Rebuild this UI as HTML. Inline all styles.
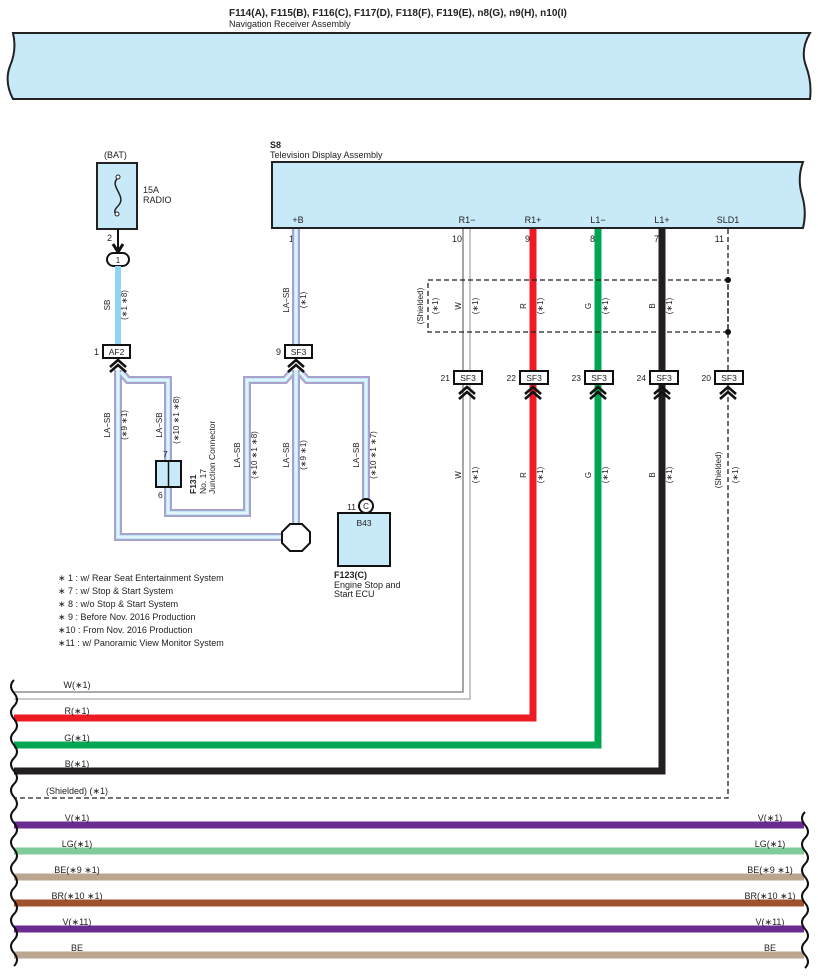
<!DOCTYPE html>
<html><head><meta charset="utf-8"><style>
html,body{margin:0;padding:0;background:#fff}
svg{display:block}
text{font-family:"Liberation Sans",sans-serif;fill:#222}
</style></head><body>
<svg width="818" height="978" viewBox="0 0 818 978" xmlns="http://www.w3.org/2000/svg">
<defs>
<g id="chev"><path d="M-8,7 L0,0 L8,7 M-8,12 L0,5 L8,12" fill="none" stroke="#111" stroke-width="2.6"/></g>
</defs>
<text x="229" y="16" font-size="10" font-weight="bold">F114(A), F115(B), F116(C), F117(D), F118(F), F119(E), n8(G), n9(H), n10(I)</text>
<text x="229" y="27" font-size="9">Navigation Receiver Assembly</text>
<path d="M13,33 L810,33 Q800,50 806,66 Q812,82 810,99 L13,99 Q4,82 10,66 Q17,50 13,33 Z" fill="#c8e9f8" stroke="#222" stroke-width="2"/>

<text x="270" y="148" font-size="9" font-weight="bold">S8</text>
<text x="270" y="158" font-size="9">Television Display Assembly</text>
<path d="M272,162 L803,162 Q797,178 802,195 Q807,212 803,228 L272,228 Z" fill="#c8e9f8" stroke="#222" stroke-width="2"/>
<g font-size="9" text-anchor="middle">
<text x="298" y="223">+B</text><text x="467" y="223">R1−</text><text x="533" y="223">R1+</text>
<text x="598" y="223">L1−</text><text x="662" y="223">L1+</text><text x="728" y="223">SLD1</text>
</g>
<g font-size="9" text-anchor="end">
<text x="294" y="242">1</text><text x="462" y="242">10</text><text x="530" y="242">9</text>
<text x="595" y="242">8</text><text x="659" y="242">7</text><text x="724" y="242">11</text>
</g>

<text x="104" y="158" font-size="9">(BAT)</text>
<rect x="97" y="163" width="40" height="66" fill="#c8e9f8" stroke="#222" stroke-width="2"/>
<path d="M118,178 C108,186 128,196 118,206 C112,212 116,214 117,214" fill="none" stroke="#222" stroke-width="1.5"/>
<circle cx="118" cy="177" r="2" fill="#fff" stroke="#222"/><circle cx="117" cy="214" r="2" fill="#fff" stroke="#222"/>
<text x="143" y="193" font-size="9">15A</text><text x="143" y="203" font-size="9">RADIO</text>
<text x="112" y="241" font-size="9" text-anchor="end">2</text>
<line x1="118" y1="229" x2="118" y2="250" stroke="#111" stroke-width="2"/>
<path d="M113,244 L118,252 L123,244" fill="none" stroke="#111" stroke-width="3"/>
<rect x="107" y="253" width="22" height="13" rx="6.5" fill="#fff" stroke="#111" stroke-width="2"/>
<text x="118" y="263" font-size="8" text-anchor="middle">1</text>
<line x1="118" y1="266" x2="118" y2="345" stroke="#8fd3f2" stroke-width="6"/>
<text transform="translate(110,305) rotate(-90)" font-size="8" text-anchor="middle">SB</text>
<text transform="translate(127,305) rotate(-90)" font-size="8" text-anchor="middle">(∗1 ∗8)</text>

<g fill="none" stroke-linejoin="miter">
<g stroke="#a8a2cd" stroke-width="8">
<polyline points="296,229 296,345"/>
<polyline points="118,370 118,537 282,537"/>
<polyline points="121,372 128,380 168,380 168,461"/>
<polyline points="168,487 168,513 247,513 247,380 285,380 292,372"/>
<polyline points="296,370 296,523"/>
<polyline points="300,372 307,380 366,380 366,499"/>
</g>
<g stroke="#c0e8f8" stroke-width="4">
<polyline points="296,229 296,345"/>
<polyline points="118,370 118,537 282,537"/>
<polyline points="121,372 128,380 168,380 168,461"/>
<polyline points="168,487 168,513 247,513 247,380 285,380 292,372"/>
<polyline points="296,370 296,523"/>
<polyline points="300,372 307,380 366,380 366,499"/>
</g>
<g stroke="#fff" stroke-width="1">
<polyline points="296,229 296,345"/>
<polyline points="118,370 118,537 282,537"/>
<polyline points="121,372 128,380 168,380 168,461"/>
<polyline points="168,487 168,513 247,513 247,380 285,380 292,372"/>
<polyline points="296,370 296,523"/>
<polyline points="300,372 307,380 366,380 366,499"/>
</g>
</g>
<g font-size="8" text-anchor="middle">
<text transform="translate(289,300) rotate(-90)">LA−SB</text>
<text transform="translate(306,300) rotate(-90)">(∗1)</text>
<text transform="translate(110,425) rotate(-90)">LA−SB</text>
<text transform="translate(127,425) rotate(-90)">(∗9 ∗1)</text>
<text transform="translate(162,425) rotate(-90)">LA−SB</text>
<text transform="translate(179,420) rotate(-90)">(∗10 ∗1 ∗8)</text>
<text transform="translate(240,455) rotate(-90)">LA−SB</text>
<text transform="translate(257,455) rotate(-90)">(∗10 ∗1 ∗8)</text>
<text transform="translate(289,455) rotate(-90)">LA−SB</text>
<text transform="translate(306,455) rotate(-90)">(∗9 ∗1)</text>
<text transform="translate(359,455) rotate(-90)">LA−SB</text>
<text transform="translate(376,455) rotate(-90)">(∗10 ∗1 ∗7)</text>
</g>

<rect x="103" y="345" width="27" height="13" fill="#fff" stroke="#111" stroke-width="2"/>
<text x="116.5" y="355" font-size="8.5" text-anchor="middle">AF2</text>
<text x="99" y="355" font-size="9" text-anchor="end">1</text>
<use href="#chev" x="118" y="360"/>
<rect x="285" y="345" width="27" height="13" fill="#fff" stroke="#111" stroke-width="2"/>
<text x="298.5" y="355" font-size="8.5" text-anchor="middle">SF3</text>
<text x="281" y="355" font-size="9" text-anchor="end">9</text>
<use href="#chev" x="296" y="360"/>

<rect x="156" y="461" width="25" height="26" fill="#c8e9f8" stroke="#111" stroke-width="2"/>
<line x1="168.5" y1="461" x2="168.5" y2="487" stroke="#111" stroke-width="1.5"/>
<text x="163" y="457" font-size="8.5">7</text>
<text x="158" y="498" font-size="8.5">6</text>
<text transform="translate(196,494) rotate(-90)" font-size="8.5" font-weight="bold">F131</text>
<text transform="translate(206,494) rotate(-90)" font-size="8.5">No. 17</text>
<text transform="translate(215,494) rotate(-90)" font-size="8.5">Junction Connector</text>

<polygon points="290,524 302,524 310,532 310,543 302,551 290,551 282,543 282,532" fill="#fff" stroke="#111" stroke-width="2"/>

<rect x="338" y="513" width="52" height="53" fill="#c8e9f8" stroke="#111" stroke-width="2"/>
<circle cx="366" cy="506" r="7" fill="#fff" stroke="#111" stroke-width="2"/>
<text x="366" y="509" font-size="8" text-anchor="middle">C</text>
<text x="356" y="510" font-size="8.5" text-anchor="end">11</text>
<text x="364" y="526" font-size="8.5" text-anchor="middle">B43</text>
<text x="334" y="578" font-size="9" font-weight="bold">F123(C)</text>
<text x="334" y="588" font-size="9">Engine Stop and</text>
<text x="334" y="597" font-size="9">Start ECU</text>

<g font-size="9">
<text x="58" y="581">∗ 1 : w/ Rear Seat Entertainment System</text>
<text x="58" y="594">∗ 7 : w/ Stop &amp; Start System</text>
<text x="58" y="607">∗ 8 : w/o Stop &amp; Start System</text>
<text x="58" y="620">∗ 9 : Before Nov.  2016 Production</text>
<text x="58" y="633">∗10 : From Nov.  2016 Production</text>
<text x="58" y="646">∗11 : w/ Panoramic View Monitor System</text>
</g>

<g fill="none">
<polyline points="463,229 463,692 14,692" stroke="#777" stroke-width="1.3"/>
<polyline points="470,229 470,699 14,699" stroke="#aaa" stroke-width="1.3"/>
<polyline points="533,229 533,718 14,718" stroke="#ed1c24" stroke-width="7"/>
<polyline points="598,229 598,745 14,745" stroke="#00a651" stroke-width="7"/>
<polyline points="662,229 662,771 14,771" stroke="#231f20" stroke-width="7"/>
<polyline points="728,229 728,798 14,798" stroke="#222" stroke-width="1.3" stroke-dasharray="5,3"/>
<rect x="428" y="280" width="300" height="52" stroke="#222" stroke-width="1.3" stroke-dasharray="5,3"/>
</g>
<circle cx="728" cy="280" r="3" fill="#111"/><circle cx="728" cy="332" r="3" fill="#111"/>
<g font-size="8" text-anchor="middle">
<text transform="translate(423,306) rotate(-90)">(Shielded)</text>
<text transform="translate(438,306) rotate(-90)">(∗1)</text>
<text transform="translate(461,306) rotate(-90)">W</text><text transform="translate(478,306) rotate(-90)">(∗1)</text>
<text transform="translate(526,306) rotate(-90)">R</text><text transform="translate(543,306) rotate(-90)">(∗1)</text>
<text transform="translate(591,306) rotate(-90)">G</text><text transform="translate(608,306) rotate(-90)">(∗1)</text>
<text transform="translate(655,306) rotate(-90)">B</text><text transform="translate(672,306) rotate(-90)">(∗1)</text>
<text transform="translate(461,475) rotate(-90)">W</text><text transform="translate(478,475) rotate(-90)">(∗1)</text>
<text transform="translate(526,475) rotate(-90)">R</text><text transform="translate(543,475) rotate(-90)">(∗1)</text>
<text transform="translate(591,475) rotate(-90)">G</text><text transform="translate(608,475) rotate(-90)">(∗1)</text>
<text transform="translate(655,475) rotate(-90)">B</text><text transform="translate(672,475) rotate(-90)">(∗1)</text>
<text transform="translate(721,470) rotate(-90)">(Shielded)</text><text transform="translate(738,475) rotate(-90)">(∗1)</text>
</g>
<g font-size="8.5">
<rect x="454" y="371" width="28" height="13" fill="#fff" stroke="#111" stroke-width="2"/><text x="468" y="381" text-anchor="middle">SF3</text><text x="450" y="381" text-anchor="end">21</text>
<rect x="520" y="371" width="28" height="13" fill="#fff" stroke="#111" stroke-width="2"/><text x="534" y="381" text-anchor="middle">SF3</text><text x="516" y="381" text-anchor="end">22</text>
<rect x="585" y="371" width="28" height="13" fill="#fff" stroke="#111" stroke-width="2"/><text x="599" y="381" text-anchor="middle">SF3</text><text x="581" y="381" text-anchor="end">23</text>
<rect x="650" y="371" width="28" height="13" fill="#fff" stroke="#111" stroke-width="2"/><text x="664" y="381" text-anchor="middle">SF3</text><text x="646" y="381" text-anchor="end">24</text>
<rect x="715" y="371" width="28" height="13" fill="#fff" stroke="#111" stroke-width="2"/><text x="729" y="381" text-anchor="middle">SF3</text><text x="711" y="381" text-anchor="end">20</text>
</g>
<use href="#chev" x="467" y="387"/><use href="#chev" x="533" y="387"/><use href="#chev" x="598" y="387"/>
<use href="#chev" x="662" y="387"/><use href="#chev" x="728" y="387"/>

<g fill="none" stroke-width="7">
<line x1="14" y1="825" x2="804" y2="825" stroke="#6a2c91"/>
<line x1="14" y1="851" x2="804" y2="851" stroke="#7fcc9a"/>
<line x1="14" y1="877" x2="804" y2="877" stroke="#bba58f"/>
<line x1="14" y1="903" x2="804" y2="903" stroke="#a0522d"/>
<line x1="14" y1="929" x2="804" y2="929" stroke="#6a2c91"/>
<line x1="14" y1="955" x2="804" y2="955" stroke="#bba58f"/>
</g>
<g font-size="9" text-anchor="middle">
<text x="77" y="688">W(∗1)</text><text x="77" y="714">R(∗1)</text><text x="77" y="741">G(∗1)</text>
<text x="77" y="767">B(∗1)</text><text x="77" y="794">(Shielded) (∗1)</text>
<text x="77" y="821">V(∗1)</text><text x="77" y="847">LG(∗1)</text><text x="77" y="873">BE(∗9 ∗1)</text>
<text x="77" y="899">BR(∗10 ∗1)</text><text x="77" y="925">V(∗11)</text><text x="77" y="951">BE</text>
<text x="770" y="821">V(∗1)</text><text x="770" y="847">LG(∗1)</text><text x="770" y="873">BE(∗9 ∗1)</text>
<text x="770" y="899">BR(∗10 ∗1)</text><text x="770" y="925">V(∗11)</text><text x="770" y="951">BE</text>
</g>
<path d="M14,680 q-6,6 0,13 q6,7 0,13 q-6,6 0,13 q6,7 0,13 q-6,6 0,13 q6,7 0,13 q-6,6 0,13 q6,7 0,13 q-6,6 0,13 q6,7 0,13 q-6,6 0,13 q6,7 0,13 q-6,6 0,13 q6,7 0,13 q-6,6 0,13 q6,7 0,13 q-6,6 0,13 q6,7 0,13 q-6,6 0,13 q6,7 0,13 q-6,6 0,13 q6,7 0,13" fill="none" stroke="#111" stroke-width="2"/>
<path d="M805,812 q-6,6 0,13 q6,7 0,13 q-6,6 0,13 q6,7 0,13 q-6,6 0,13 q6,7 0,13 q-6,6 0,13 q6,7 0,13 q-6,6 0,13 q6,7 0,13 q-6,6 0,13 q6,7 0,13" fill="none" stroke="#111" stroke-width="2"/>
</svg>
</body></html>
